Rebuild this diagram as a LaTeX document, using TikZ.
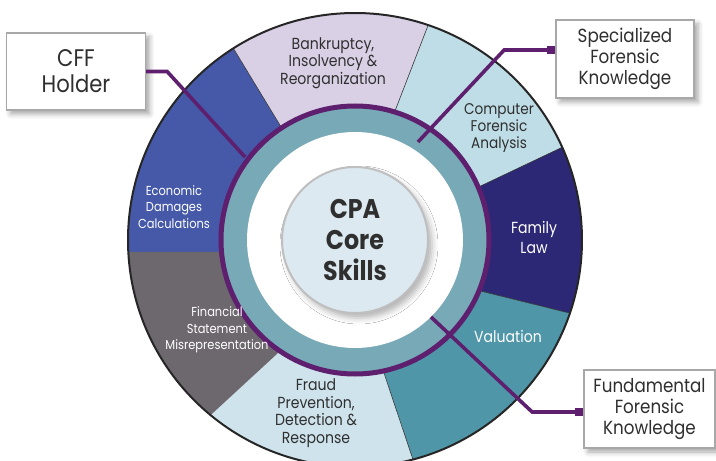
\documentclass[tikz,border=0pt]{standalone}
\usepackage{fontspec}
\setmainfont[FakeStretch=0.88]{Poppins}
\usetikzlibrary{shadows.blur}
\definecolor{ink}{HTML}{2F2F2F}
\definecolor{plum}{HTML}{5E1F6E}
\definecolor{ringteal}{HTML}{78A9B7}
\definecolor{lavender}{HTML}{D9D0E6}
\definecolor{iceblue}{HTML}{BFDDE6}
\definecolor{navy}{HTML}{2C2876}
\definecolor{seateal}{HTML}{4F97A8}
\definecolor{paleblue}{HTML}{CFE3EC}
\definecolor{slate}{HTML}{6D676E}
\definecolor{royal}{HTML}{4559A8}
\definecolor{corefill}{HTML}{DCE9F0}
\definecolor{boxline}{HTML}{A8A8A8}

\begin{document}
\begin{tikzpicture}[
  x=1pt, y=1pt, text=ink,
  skill/.style={align=center, font=\fontsize{16}{17.5}\selectfont},
  smallskill/.style={align=center, text=white, font=\fontsize{13}{16.5}\selectfont},
  seam/.style={draw=black!80, line width=.6},
  callout/.style={draw=boxline, fill=white, line width=1.3, align=center,
    inner sep=0pt,
    blur shadow={shadow xshift=4, shadow yshift=-4, shadow blur radius=5,
      shadow opacity=35}},
  leader/.style={draw=plum, line width=3.6, line join=miter},
  tab/.style={fill=plum, minimum size=8, inner sep=0pt}
]
\useasboundingbox (-355,-221) rectangle (361,240);

% Outer ring: seven skill areas, inner angle at r=134, outer angle at r=227
\fill[royal] (185.1:134) -- (183:227) arc[start angle=183, end angle=122.4, radius=227]
  -- (123.2:134) arc[start angle=123.2, end angle=185.1, radius=134] -- cycle;
\fill[lavender] (123.2:134) -- (122.4:227) arc[start angle=122.4, end angle=71.2, radius=227]
  -- (72.8:134) arc[start angle=72.8, end angle=123.2, radius=134] -- cycle;
\fill[iceblue] (72.8:134) -- (71.2:227) arc[start angle=71.2, end angle=24.1, radius=227]
  -- (23.2:134) arc[start angle=23.2, end angle=72.8, radius=134] -- cycle;
\fill[navy] (23.2:134) -- (24.1:227) arc[start angle=24.1, end angle=-18.8, radius=227]
  -- (-22.2:134) arc[start angle=-22.2, end angle=23.2, radius=134] -- cycle;
\fill[seateal] (-22.2:134) -- (-18.8:227) arc[start angle=-18.8, end angle=-75.2, radius=227]
  -- (-77.8:134) arc[start angle=-77.8, end angle=-22.2, radius=134] -- cycle;
\fill[paleblue] (-77.8:134) -- (-75.2:227) arc[start angle=-75.2, end angle=-129.5, radius=227]
  -- (-124:134) arc[start angle=-124, end angle=-77.8, radius=134] -- cycle;
\fill[slate] (-124:134) -- (-129.5:227) arc[start angle=-129.5, end angle=-177, radius=227]
  -- (-174.9:134) arc[start angle=-174.9, end angle=-124, radius=134] -- cycle;
\draw[seam] (123.2:134) -- (122.4:227);
\draw[seam] (72.8:134) -- (71.2:227);
\draw[seam] (23.2:134) -- (24.1:227);
\draw[seam] (-22.2:134) -- (-18.8:227);
\draw[seam] (-77.8:134) -- (-75.2:227);
\draw[black!85, line width=2] (0,0) circle[radius=227];

% Inner rings
\fill[ringteal] (0,0) circle[radius=134];
\fill[white] (0,0) circle[radius=108];
\draw[plum, line width=5] (0,0) circle[radius=134];

% Skill labels
\node[skill] (bankruptcy) at (-22,177) {Bankruptcy,\\Insolvency \&\\Reorganization};
\node[skill, font=\fontsize{15.5}{17}\selectfont] (computer) at (144,112)
  {Computer\\Forensic\\Analysis};
\node[skill, text=white, font=\fontsize{16}{20}\selectfont] (family) at (179,3)
  {Family\\Law};
\node[skill, text=white] (valuation) at (153,-96) {Valuation};
\node[skill] (fraud) at (-39,-173) {Fraud\\Prevention,\\Detection \&\\Response};
\node[smallskill] (financial) at (-138,-90) {Financial\\Statement\\Misrepresentation};
\node[smallskill] (economic) at (-181,33) {Economic\\Damages\\Calculations};

% Core disc
\node[circle, fill=corefill, draw=black!25, line width=2, minimum size=146,
  inner sep=0pt, align=center,
  font=\fontsize{27}{31}\selectfont\bfseries,
  blur shadow={shadow xshift=4, shadow yshift=-5, shadow blur radius=6,
    shadow opacity=30}]
  (core) at (0,0) {CPA\\Core\\Skills};

% Callouts and their leader lines
\node[callout, minimum width=139, minimum height=77,
  font=\fontsize{24}{26}\selectfont] (cff) at (-279,168.5) {CFF\\Holder};
\node[callout, minimum width=138, minimum height=78,
  font=\fontsize{19}{21}\selectfont] (specialized) at (270,181)
  {Specialized\\Forensic\\Knowledge};
\node[callout, minimum width=131, minimum height=78,
  font=\fontsize{19}{21}\selectfont] (fundamental) at (294.5,-169)
  {Fundamental\\Forensic\\Knowledge};

\coordinate (cffend) at (-110,83);
\coordinate (specend) at (63,98);
\coordinate (fundend) at (76,-77);
\node[tab, anchor=east] (spectab) at ([yshift=9]specialized.west) {};
\node[tab, anchor=east] (fundtab) at ([yshift=-3]fundamental.west) {};
\draw[leader] (cff.east) -- ++(21,0) -- (cffend);
\draw[leader] (spectab.center) -- ++(-47,0) -- (specend);
\draw[leader] (fundtab.center) -- ++(-47,0) -- (fundend);
\end{tikzpicture}
\end{document}
